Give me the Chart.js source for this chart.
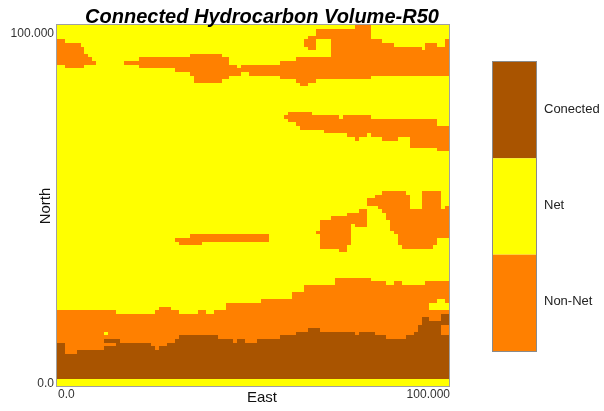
<!DOCTYPE html>
<html><head><meta charset="utf-8">
<script src="https://cdn.jsdelivr.net/npm/chart.js@4.4.1/dist/chart.umd.min.js"></script>
<style>html,body{margin:0;padding:0;background:#fff;}#wrap{width:604px;height:411px;position:relative;}</style>
</head><body><div id="wrap"><canvas id="c" width="604" height="411"></canvas></div>
<script>
// ---------------- data ----------------
const chartTitle = 'Connected Hydrocarbon Volume-R50';
const xAxisTitle = 'East';
const yAxisTitle = 'North';
const xTickLabels = ['0.0', '100.000'];
const yTickLabels = ['0.0', '100.000'];
const classNames = ['Conected', 'Net', 'Non-Net'];
const classColors = ['#A95400', '#FFFF00', '#FF8000'];
const nCols = 100;           // grid columns (East)
const yMin = 0, yMax = 100;  // grid rows (North)
const connectedBase = 2;

// [firstCol, lastCol, value] : top of the connected (brown) layer
const connectedTopRuns = [[0,1,12],[2,4,9],[5,11,10],[12,15,13],[16,23,12],[24,24,11],[25,25,10],[26,27,11],[28,29,12],[30,30,13],[31,40,14],[41,44,13],[45,45,12],[46,47,13],[48,50,12],[51,56,13],[57,60,14],[61,63,15],[64,66,16],[67,75,15],[76,76,14],[77,80,15],[81,83,14],[84,88,13],[89,90,14],[91,91,15],[92,92,17],[93,94,19],[95,97,18],[98,99,20]];
// [firstCol, lastCol, value] : top of the lower non-net (orange) layer
const nonNetTopRuns = [[0,14,21],[15,24,20],[25,25,21],[26,28,22],[29,30,21],[31,35,20],[36,37,21],[38,39,20],[40,42,21],[43,51,23],[52,59,24],[60,62,26],[63,70,28],[71,79,30],[80,83,29],[84,85,28],[86,87,29],[88,93,28],[94,99,29]];
// [firstCol, lastCol, bottom, top] : non-net patches inside net
const nonNetMidRuns = [[30,30,40,41],[31,33,39,41],[34,36,39,42],[37,53,40,42],[66,66,42,43],[67,69,38,46],[70,71,38,47],[72,73,37,47],[74,74,39,48],[75,75,45,48],[76,76,44,48],[77,78,44,49],[79,80,50,52],[81,81,50,53],[82,82,49,53],[83,83,48,54],[84,84,46,54],[85,85,43,54],[86,86,42,54],[87,87,39,54],[88,88,38,54],[89,89,38,53],[90,92,38,49],[93,95,38,54],[96,96,39,54],[97,97,41,54],[98,98,41,49],[99,99,41,50]];
const nonNetBand2Runs = [[58,58,74,75],[59,60,73,76],[61,61,72,76],[62,64,71,76],[65,67,71,75],[68,71,70,75],[72,72,70,74],[73,73,70,75],[74,75,69,75],[76,76,68,75],[77,78,69,75],[79,79,70,75],[80,82,69,74],[83,86,68,74],[87,89,69,74],[90,96,66,74],[97,99,65,72]];
const nonNetUpperRuns = [[0,1,89,96],[2,5,88,95],[6,6,88,94],[7,7,89,92],[8,8,89,91],[9,9,89,90],[17,20,89,90],[21,29,88,91],[30,33,87,91],[34,34,86,92],[35,41,84,92],[42,43,85,91],[44,45,86,89],[46,46,86,88],[47,48,87,89],[49,56,86,89],[57,60,85,90],[61,61,84,91],[62,63,83,91],[64,65,84,91],[66,69,85,91],[70,75,85,99],[76,79,85,100],[80,82,86,96],[83,85,86,95],[86,92,86,94],[93,93,86,93],[94,96,86,95],[97,98,86,94],[99,99,86,96]];
const nonNetCapRuns = [[63,63,94,96],[64,65,93,97],[66,69,96,99]];
const nonNetSpotRuns = [[12,14,11,12],[98,99,14,17]];
const netSpotRuns = [[12,12,14,15],[95,96,21,23],[97,98,21,24],[99,99,21,23]];
const netBackgroundRuns = [[0,99,0,100]];

// ---------------- build ----------------
function expandValues(runs){const o=new Array(nCols).fill(null);for(const [a,b,v] of runs)for(let c=a;c<=b;c++)o[c]=v;return o;}
function expandRanges(runs){const o=new Array(nCols).fill(null);for(const [a,b,lo,hi] of runs)for(let c=a;c<=b;c++)o[c]=[lo,hi];return o;}
const connectedTop = expandValues(connectedTopRuns);
const nonNetTop = expandValues(nonNetTopRuns);
const labels = Array.from({length:nCols},(_,i)=>i);

function ds(label,data,color,order){return {label,data,backgroundColor:color,borderWidth:0,inflateAmount:0,order,barPercentage:1,categoryPercentage:1,stack:'grid'};}
const datasets = [
  ds('Net', expandRanges(netBackgroundRuns), classColors[1], 10),
  ds('Conected', connectedTop.map(v=>[connectedBase,v]), classColors[0], 9),
  ds('Non-Net', connectedTop.map((v,i)=>[v,nonNetTop[i]]), classColors[2], 8),
  ds('Non-Net mid', expandRanges(nonNetMidRuns), classColors[2], 7),
  ds('Non-Net band', expandRanges(nonNetBand2Runs), classColors[2], 6),
  ds('Non-Net upper', expandRanges(nonNetUpperRuns), classColors[2], 5),
  ds('Non-Net cap', expandRanges(nonNetCapRuns), classColors[2], 4),
  ds('Non-Net spots', expandRanges(nonNetSpotRuns), classColors[2], 3),
  ds('Net spots', expandRanges(netSpotRuns), classColors[1], 2)
];

// snap the library-computed cell rectangles to whole pixels (crisp raster cells, no seams)
const pixelSnap = {
  id:'pixelSnap',
  beforeDatasetsDraw(chart){
    chart.getSortedVisibleDatasetMetas().forEach(meta=>{
      meta.data.forEach(el=>{
        if (el.skip || el.x == null || isNaN(el.y) || isNaN(el.base)) return;
        const l = Math.round(el.x - el.width/2), r = Math.round(el.x + el.width/2);
        el.x = (l + r)/2; el.width = r - l;
        const up = el.y <= el.base;
        const t = Math.round(Math.min(el.y, el.base)), b = Math.round(Math.max(el.y, el.base));
        if (up) { el.y = t; el.base = b; } else { el.y = b; el.base = t; }
        el.height = b - t;
      });
    });
  }
};

const FONT = '"Liberation Sans", Arial, Helvetica, sans-serif';
const decor = {
  id:'decor',
  afterDraw(chart){
    const {ctx, chartArea:a, scales:{x,y}} = chart;
    ctx.save();
    // plot frame
    ctx.strokeStyle='#a0a0a0'; ctx.lineWidth=1;
    ctx.strokeRect(a.left-0.5, a.top-0.5, a.right-a.left+1, a.bottom-a.top+1);
    // title
    ctx.fillStyle='#000'; ctx.textAlign='center'; ctx.textBaseline='alphabetic';
    ctx.font='italic bold 20px '+FONT;
    ctx.fillText(chartTitle, 262, 23);
    // y ticks
    ctx.font='12px '+FONT; ctx.fillStyle='#333'; ctx.textAlign='right';
    ctx.fillText(yTickLabels[1], a.left-3, y.getPixelForValue(yMax)+12);
    ctx.fillText(yTickLabels[0], a.left-3, y.getPixelForValue(yMin)+1);
    // x ticks
    ctx.textAlign='left';
    ctx.fillText(xTickLabels[0], a.left+1, a.bottom+12);
    ctx.textAlign='right';
    ctx.fillText(xTickLabels[1], a.right+1, a.bottom+12);
    // axis titles
    ctx.fillStyle='#111'; ctx.font='15px '+FONT; ctx.textAlign='center';
    ctx.fillText(xAxisTitle, 262, a.bottom+16);
    ctx.save(); ctx.translate(50, 206); ctx.rotate(-Math.PI/2);
    ctx.fillText(yAxisTitle, 0, 0); ctx.restore();
    // colour bar legend
    const lx=493, lw=43, top=62, segH=96.33;
    const legendOrder=[0,1,2];
    legendOrder.forEach((k,i)=>{
      ctx.fillStyle=classColors[k];
      ctx.fillRect(lx, top+i*segH, lw, segH);
    });
    ctx.strokeStyle='#8a8a8a'; ctx.lineWidth=1;
    ctx.strokeRect(lx-0.5, top-0.5, lw+1, segH*3+1);
    ctx.fillStyle='#222'; ctx.font='13px '+FONT; ctx.textAlign='left'; ctx.textBaseline='middle';
    legendOrder.forEach((k,i)=>{ ctx.fillText(classNames[k], 544, top+i*segH+segH/2-1); });
    ctx.restore();
  }
};

new Chart(document.getElementById('c'), {
  type:'bar',
  data:{labels, datasets},
  options:{
    responsive:false, animation:false, devicePixelRatio:1,
    layout:{padding:{left:57, top:25, right:155, bottom:25}},
    plugins:{legend:{display:false}, tooltip:{enabled:false}, title:{display:false}},
    scales:{
      x:{type:'category', display:false, stacked:true, offset:true, grid:{display:false}},
      y:{type:'linear', display:false, stacked:false, min:yMin, max:yMax}
    }
  },
  plugins:[pixelSnap, decor]
});
</script></body></html>
